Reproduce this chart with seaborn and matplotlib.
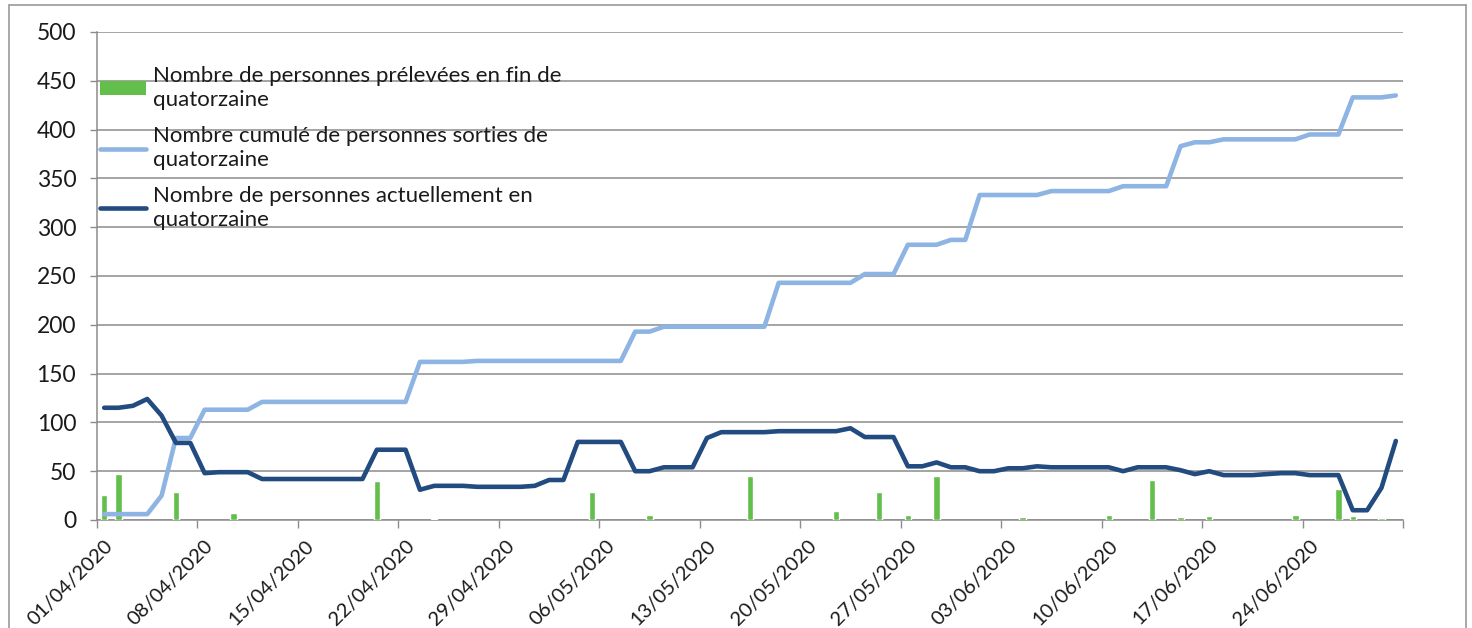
import numpy as np
import pandas as pd
import matplotlib
matplotlib.use("Agg")
import matplotlib.pyplot as plt
from matplotlib.lines import Line2D
from matplotlib.patches import Patch
import seaborn as sns

# ---- data ----
start_date = "2020-04-01"
n_days = 91
dates = pd.date_range(start_date, periods=n_days)

actuellement = [115, 115, 117, 124, 107, 79, 79, 48, 49, 49, 49, 42, 42, 42, 42, 42,
                42, 42, 42, 72, 72, 72, 31, 35, 35, 35, 34, 34, 34, 34, 35, 41,
                41, 80, 80, 80, 80, 50, 50, 54, 54, 54, 84, 90, 90, 90, 90, 91,
                91, 91, 91, 91, 94, 85, 85, 85, 55, 55, 59, 54, 54, 50, 50, 53,
                53, 55, 54, 54, 54, 54, 54, 50, 54, 54, 54, 51, 47, 50, 46, 46,
                46, 47, 48, 48, 46, 46, 46, 10, 10, 33, 81]

cumul_sorties = [6, 6, 6, 6, 25, 84, 84, 113, 113, 113, 113, 121, 121, 121, 121, 121,
                 121, 121, 121, 121, 121, 121, 162, 162, 162, 162, 163, 163, 163, 163, 163, 163,
                 163, 163, 163, 163, 163, 193, 193, 198, 198, 198, 198, 198, 198, 198, 198, 243,
                 243, 243, 243, 243, 243, 252, 252, 252, 282, 282, 282, 287, 287, 333, 333, 333,
                 333, 333, 337, 337, 337, 337, 337, 342, 342, 342, 342, 383, 387, 387, 390, 390,
                 390, 390, 390, 390, 395, 395, 395, 433, 433, 433, 435]

prelev_days = [0, 1, 5, 9, 19, 23, 34, 38, 45, 51, 54, 56, 58, 64, 70, 73, 75, 77, 83, 86, 87, 89]
prelev_values = [26, 47, 29, 7, 40, 1, 29, 5, 45, 9, 29, 5, 45, 3, 5, 41, 3, 4, 5, 32, 4, 2]

label_bar = "Nombre de personnes prélevées en fin de\nquatorzaine"
label_cum = "Nombre cumulé de personnes sorties de\nquatorzaine"
label_cur = "Nombre de personnes actuellement en\nquatorzaine"

y_ticks = list(range(0, 501, 50))
tick_every = 7

# ---- style ----
sns.set_theme(style="white")
plt.rcParams["font.family"] = ["Lato", "DejaVu Sans"]

green = "#63BE4B"
light = "#8EB4E3"
dark = "#224B80"
grid_c = "#8C8C8C"
txt_c = "#1A1A1A"

W, H = 1472, 628
fig = plt.figure(figsize=(W / 100, H / 100), dpi=100)
ax = fig.add_axes([97 / W, 1 - 520 / H, (1403 - 97) / W, (520 - 32) / H])

idx = np.arange(n_days)
df_lines = pd.DataFrame({"idx": idx, "cum": cumul_sorties, "cur": actuellement})
df_bars = pd.DataFrame({"idx": prelev_days, "val": prelev_values})

sns.barplot(data=df_bars, x="idx", y="val", native_scale=True, width=0.45,
            color=green, saturation=1, ax=ax, zorder=3)
sns.lineplot(data=df_lines, x="idx", y="cum", color=light, linewidth=3.3, ax=ax, zorder=4)
sns.lineplot(data=df_lines, x="idx", y="cur", color=dark, linewidth=3.3, ax=ax, zorder=5)

ax.set_xlim(-0.5, n_days - 0.5)
ax.set_ylim(0, 500)
ax.set_xlabel("")
ax.set_ylabel("")

# y axis
ax.set_yticks(y_ticks)
ax.set_yticklabels([str(v) for v in y_ticks])
ax.yaxis.grid(True, color=grid_c, linewidth=1.1)
ax.set_axisbelow(True)
ax.tick_params(axis="y", which="major", left=True, length=5, width=1, color=grid_c,
               pad=10, labelsize=16.5, labelcolor=txt_c)

# x axis: tick marks at category boundaries, labels at category centres
boundaries = [i - 0.5 for i in range(0, n_days, tick_every)] + [n_days - 0.5]
ax.set_xticks(boundaries)
ax.set_xticklabels([""] * len(boundaries))
centres = list(range(0, n_days, tick_every))
ax.set_xticks(centres, minor=True)
ax.set_xticklabels([dates[i].strftime("%d/%m/%Y") for i in centres], minor=True,
                   rotation=45, ha="right", va="top", rotation_mode="anchor")
ax.tick_params(axis="x", which="major", bottom=True, length=6, width=1, color=grid_c)
ax.tick_params(axis="x", which="minor", bottom=True, length=0, pad=12,
               labelsize=14.5, labelcolor=txt_c)

for s in ["top", "right"]:
    ax.spines[s].set_visible(False)
for s in ["left", "bottom"]:
    ax.spines[s].set_color(grid_c)
    ax.spines[s].set_linewidth(1.1)

handles = [Patch(facecolor=green, edgecolor="none"),
           Line2D([0], [0], color=light, linewidth=3.3),
           Line2D([0], [0], color=dark, linewidth=3.3)]
leg = ax.legend(handles, [label_bar, label_cum, label_cur], loc="upper left",
                bbox_to_anchor=(0.0, 0.937), frameon=False, fontsize=16,
                handlelength=2.05, handletextpad=0.3, labelspacing=0.72,
                borderaxespad=0.0, borderpad=0.15, handleheight=0.55)
for t in leg.get_texts():
    t.set_color(txt_c)
    t.set_linespacing(1.24)
    t.set_va("baseline")

# chart-area border
fig.add_artist(Line2D([9 / W, 9 / W], [0, 1 - 5 / H], color="#9A9A9A", linewidth=1.2,
                      transform=fig.transFigure))
fig.add_artist(Line2D([9 / W, 1466 / W], [1 - 5 / H, 1 - 5 / H], color="#9A9A9A",
                      linewidth=1.2, transform=fig.transFigure))
fig.add_artist(Line2D([1466 / W, 1466 / W], [0, 1 - 5 / H], color="#9A9A9A", linewidth=1.2,
                      transform=fig.transFigure))

fig.savefig("out.png", dpi=100)
